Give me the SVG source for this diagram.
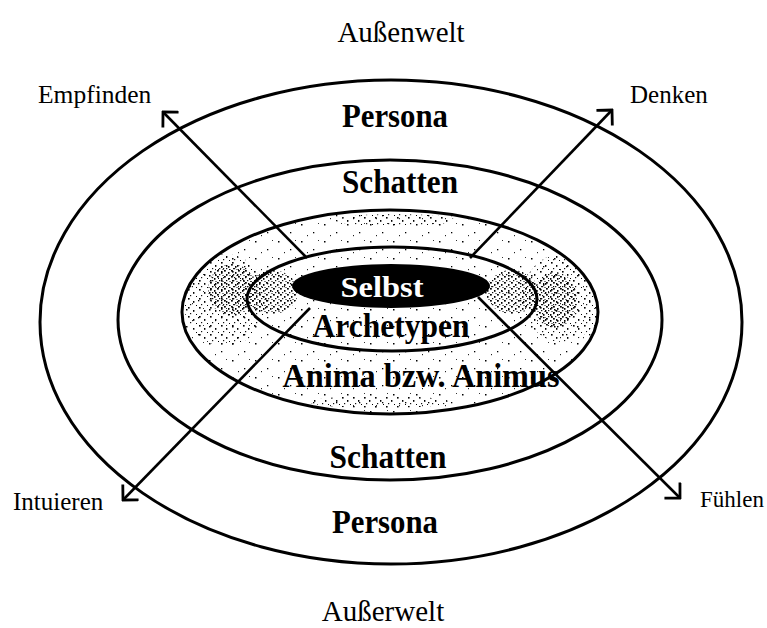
<svg xmlns="http://www.w3.org/2000/svg" width="767" height="628" viewBox="0 0 767 628">
<style>
.ring{fill:none;stroke:#000;stroke-width:3}
.arr{fill:none;stroke:#000;stroke-width:2.6;marker-end:url(#chev)}
.lab{font-family:"Liberation Serif","Times New Roman",serif;fill:#000}
.big{font-family:"Liberation Serif","Times New Roman",serif;font-weight:bold;fill:#000;text-anchor:middle}
</style>
<defs>
<pattern id="spkLight" width="23" height="17" patternUnits="userSpaceOnUse">
<rect x="2" y="3" width="1.5" height="1.5" fill="#000"/>
<rect x="14" y="11" width="1.3" height="1.3" fill="#000"/>
<rect x="19" y="2" width="1" height="1" fill="#333"/>
<rect x="8" y="14" width="1" height="1.2" fill="#222"/>
</pattern>
<pattern id="spkMid" width="11" height="9" patternUnits="userSpaceOnUse">
<rect x="1" y="1" width="1.6" height="1.6" fill="#000"/>
<rect x="6" y="4" width="1.4" height="1.8" fill="#000"/>
<rect x="3" y="7" width="1.2" height="1.2" fill="#111"/>
<rect x="9" y="8" width="1" height="1" fill="#000"/>
</pattern>
<pattern id="spkDense" width="7" height="6" patternUnits="userSpaceOnUse">
<rect x="0" y="0" width="1.8" height="1.6" fill="#000"/>
<rect x="4" y="2" width="1.5" height="1.8" fill="#000"/>
<rect x="2" y="4" width="1.3" height="1.2" fill="#111"/>
<rect x="5.5" y="5" width="1" height="1" fill="#000"/>
</pattern>
<clipPath id="clipE3"><ellipse cx="390" cy="312" rx="208" ry="102"/></clipPath>
<marker id="chev" viewBox="-14 -12 16 24" markerWidth="16" markerHeight="24" refX="0" refY="0" orient="auto" markerUnits="userSpaceOnUse">
<path d="M-11,-11 L0,0 L-11,11" fill="none" stroke="#000" stroke-width="2.8"/>
</marker>
</defs>

<g id="outer-persona">
<ellipse class="ring" cx="391" cy="322" rx="351" ry="242"/>
<text class="big" x="395" y="127" font-size="33" textLength="106" lengthAdjust="spacingAndGlyphs">Persona</text>
<text class="big" x="385" y="533" font-size="33" textLength="106" lengthAdjust="spacingAndGlyphs">Persona</text>
</g>

<g id="schatten">
<ellipse class="ring" cx="390" cy="320" rx="272" ry="160"/>
<text class="big" x="400" y="193" font-size="33" textLength="116" lengthAdjust="spacingAndGlyphs">Schatten</text>
<text class="big" x="388" y="468" font-size="33" textLength="117" lengthAdjust="spacingAndGlyphs">Schatten</text>
</g>

<g id="anima">
<ellipse cx="390" cy="312" rx="208" ry="102" fill="url(#spkLight)"/>
<g clip-path="url(#clipE3)">
<ellipse cx="225" cy="300" rx="42" ry="46" fill="url(#spkMid)"/>
<ellipse cx="232" cy="290" rx="24" ry="26" fill="url(#spkDense)"/>
<ellipse cx="562" cy="298" rx="40" ry="44" fill="url(#spkMid)"/>
<ellipse cx="555" cy="300" rx="22" ry="28" fill="url(#spkDense)"/>
<ellipse cx="272" cy="292" rx="26" ry="22" fill="url(#spkDense)"/>
<ellipse cx="512" cy="292" rx="26" ry="22" fill="url(#spkDense)"/>
<ellipse cx="395" cy="220" rx="60" ry="6" fill="url(#spkMid)"/>
<ellipse cx="380" cy="402" rx="70" ry="6" fill="url(#spkMid)"/>
</g>
<ellipse class="ring" cx="390" cy="312" rx="208" ry="102"/>
<text class="big" x="421" y="387" font-size="33" textLength="277" lengthAdjust="spacingAndGlyphs">Anima bzw. Animus</text>
</g>

<g id="archetypen">
<ellipse class="ring" cx="392" cy="299" rx="145" ry="52"/>
<text class="big" x="391" y="337" font-size="33" textLength="157" lengthAdjust="spacingAndGlyphs">Archetypen</text>
</g>

<g id="selbst">
<ellipse cx="391" cy="286" rx="99" ry="22" fill="#000"/>
<text class="big" x="382" y="297" font-size="30" textLength="83" lengthAdjust="spacingAndGlyphs" style="fill:#fff">Selbst</text>
</g>

<g id="connectors">
<line class="arr" x1="307" y1="258" x2="163" y2="112"/>
<line class="arr" x1="470" y1="258" x2="612" y2="110"/>
<line class="arr" x1="310" y1="308" x2="123" y2="500"/>
<line class="arr" x1="478" y1="297" x2="680" y2="498"/>
</g>

<g id="labels">
<text class="lab" x="401" y="42" font-size="29" text-anchor="middle">Außenwelt</text>
<text class="lab" x="383" y="621" font-size="29" text-anchor="middle">Außerwelt</text>
<text class="lab" x="38" y="103" font-size="25.5">Empfinden</text>
<text class="lab" x="630" y="103" font-size="25">Denken</text>
<text class="lab" x="13" y="510" font-size="25">Intuieren</text>
<text class="lab" x="700" y="507" font-size="23">Fühlen</text>
</g>
</svg>
